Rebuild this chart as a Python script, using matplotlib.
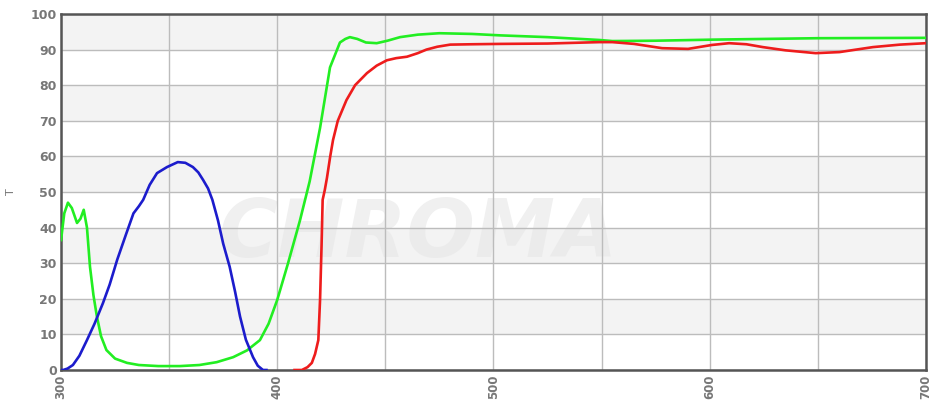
import numpy as np
import matplotlib
matplotlib.use("Agg")
from matplotlib import pyplot as plt

# wavelength (nm) / transmission (%)
green_x = [300, 301.5, 303.2, 305, 307.4, 309, 310.5, 312, 313.4, 315, 316.6, 318.5, 321, 325, 330.5, 336, 345,
           355, 364, 372, 379.6, 386, 392, 396, 400, 405, 410.5, 415, 419.8, 424.4, 429, 431.5, 433.6, 437,
           441, 446, 451, 456.8, 465, 475, 490, 503, 525, 549, 555, 575, 601.5, 650, 700]
green_y = [36.5, 44, 47, 45.5, 41.3, 42.5, 45, 40, 29, 21, 15, 9.5, 5.6, 3.2, 2, 1.4, 1.1,
           1.1, 1.4, 2.2, 3.6, 5.5, 8.4, 13, 19.7, 30, 42, 53, 68, 85, 92, 93, 93.5, 93,
           92, 91.8, 92.5, 93.5, 94.2, 94.6, 94.4, 94, 93.5, 92.7, 92.4, 92.5, 92.8, 93.2, 93.3]

red_x = [408, 411.4, 414, 416, 417.5, 419, 419.8, 420.5, 421, 422, 423, 424.5, 425.8, 428, 432, 436, 441.5, 446,
         450.7, 455, 460, 465, 469, 474, 480, 490, 503, 525, 549, 555, 565, 578, 590, 601, 609, 617, 624.6,
         635, 649, 660, 675.5, 688, 700]
red_y = [0, 0, 0.8, 2, 4.5, 8.4, 19.7, 35, 47.8, 50.6, 54, 60, 64.6, 70, 75.8, 80, 83.4, 85.5,
         87, 87.6, 88, 89, 90, 90.8, 91.4, 91.5, 91.6, 91.7, 92.1, 92.1, 91.6, 90.4, 90.2, 91.3, 91.8, 91.5, 90.7,
         89.8, 89, 89.3, 90.7, 91.4, 91.8]

blue_x = [300, 301, 303, 305.5, 308.5, 312, 315.5, 319.4, 322.5, 326, 330, 333.5, 336, 338, 341, 344.4, 349,
          354, 357.5, 361, 363.5, 365.7, 368, 370, 372.6, 375, 378, 380.5, 382.8, 385.5, 388.8, 391, 393.4, 395]
blue_y = [0, 0, 0.4, 1.4, 4, 8.4, 13, 18.8, 24, 31, 38, 44, 46, 47.8, 52, 55.3, 57,
          58.4, 58.2, 57, 55.5, 53.4, 51, 47.8, 42, 35.5, 29, 22, 15, 8.5, 3.6, 1.2, 0, 0]

xticks = [300, 400, 500, 600, 700]
yticks = list(range(0, 101, 10))

fig = plt.figure(figsize=(9.33, 4.0), dpi=100)
ax = fig.add_axes([0.0654, 0.075, 0.927, 0.89])

# alternating grey bands
for lo in range(10, 100, 20):
    ax.axhspan(lo, lo + 10, color="#f3f3f3", zorder=0, lw=0)

# watermark
ax.text(465, 38, "CHROMA", fontsize=58, fontweight="bold", fontstyle="italic",
        color="#e6e6e6", alpha=0.6, ha="center", va="center", zorder=0.5)

ax.set_xlim(300, 700)
ax.set_ylim(0, 100)
ax.set_xticks(np.arange(300, 701, 50))
ax.set_xticklabels([str(v) if v in xticks else "" for v in range(300, 701, 50)],
                   rotation=90, color="#777777", fontsize=8.5, fontweight="bold")
ax.set_yticks(yticks)
ax.set_yticklabels([str(v) for v in yticks], color="#777777", fontsize=9, fontweight="bold")
ax.tick_params(length=0, pad=3)
ax.grid(True, color="#bcbcbc", lw=1.0, zorder=1)
ax.set_axisbelow(True)
for s in ax.spines.values():
    s.set_color("#555555")
    s.set_linewidth(1.8)

ax.set_ylabel("T", color="#777777", fontsize=8)
ax.yaxis.set_label_coords(-0.052, 0.5)

ax.plot(green_x, green_y, color="#22ee22", lw=1.9, zorder=3, solid_joinstyle="round")
ax.plot(red_x, red_y, color="#ee1c1c", lw=1.9, zorder=3, solid_joinstyle="round")
ax.plot(blue_x, blue_y, color="#1c1ccc", lw=1.9, zorder=3, solid_joinstyle="round")

fig.savefig("out.png", dpi=100)
